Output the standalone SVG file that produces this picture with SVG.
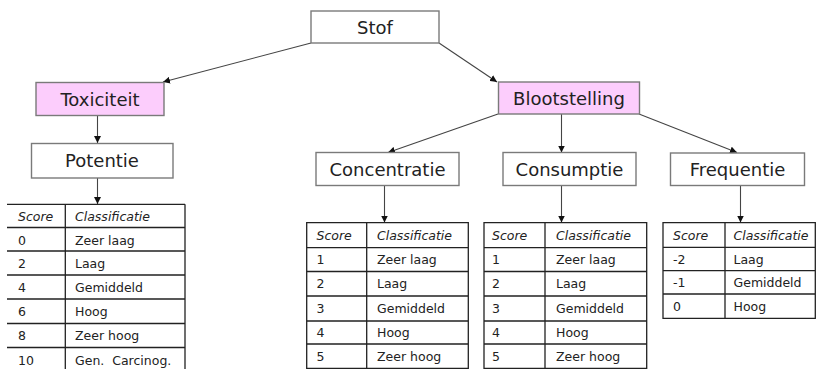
<svg xmlns="http://www.w3.org/2000/svg" width="816" height="369" viewBox="0 0 816 369">
<style>
.box{fill:#fff;stroke:#7a7a7a;stroke-width:1.4}
.pink{fill:#fccdfc;stroke:#7a7a7a;stroke-width:1.4}
.lbl{font-family:"DejaVu Sans",Verdana,sans-serif;font-size:18px;fill:#222;text-anchor:middle}
.conn{stroke:#444;stroke-width:1.1;fill:none}
.tbl{stroke:#222;stroke-width:1.3;fill:none}
.t{font-family:"DejaVu Sans",Verdana,sans-serif;font-size:12.5px;fill:#222}
.h{font-style:italic}
</style>
<defs>
<marker id="ah" viewBox="0 0 10 10" refX="10" refY="5" markerWidth="7" markerHeight="7" markerUnits="userSpaceOnUse" orient="auto">
<path d="M0,0 L10,5 L0,10 z" fill="#111"/>
</marker>
</defs>
<rect width="816" height="369" fill="#fff"/>
<g id="connectors">
<line class="conn" x1="311" y1="43" x2="163" y2="82" marker-end="url(#ah)"/>
<line class="conn" x1="439" y1="43" x2="497" y2="82" marker-end="url(#ah)"/>
<line class="conn" x1="97.5" y1="116" x2="97.5" y2="143" marker-end="url(#ah)"/>
<line class="conn" x1="97.5" y1="178" x2="97.5" y2="204" marker-end="url(#ah)"/>
<line class="conn" x1="498" y1="114" x2="388" y2="152.5" marker-end="url(#ah)"/>
<line class="conn" x1="561.5" y1="114" x2="561.5" y2="152.5" marker-end="url(#ah)"/>
<line class="conn" x1="639" y1="114" x2="737" y2="152.5" marker-end="url(#ah)"/>
<line class="conn" x1="384.5" y1="185.5" x2="384.5" y2="222.5" marker-end="url(#ah)"/>
<line class="conn" x1="561.5" y1="185.5" x2="561.5" y2="222.5" marker-end="url(#ah)"/>
<line class="conn" x1="740.5" y1="185.5" x2="740.5" y2="222.5" marker-end="url(#ah)"/>
</g>
<g id="stof"><rect class="box" x="311" y="11" width="128" height="32"/><text class="lbl" x="375" y="33.5">Stof</text></g>
<g id="toxiciteit"><rect class="pink" x="36" y="82.5" width="128" height="33"/><text class="lbl" x="100" y="105.5">Toxiciteit</text></g>
<g id="blootstelling"><rect class="pink" x="498.5" y="82" width="141" height="32"/><text class="lbl" x="569" y="104.5">Blootstelling</text></g>
<g id="potentie"><rect class="box" x="31.5" y="143.5" width="141.5" height="34.5"/><text class="lbl" x="102" y="167">Potentie</text></g>
<g id="concentratie"><rect class="box" x="316" y="152.5" width="143" height="33"/><text class="lbl" x="387.5" y="175.5">Concentratie</text></g>
<g id="consumptie"><rect class="box" x="503" y="152.5" width="133" height="33"/><text class="lbl" x="569.5" y="175.5">Consumptie</text></g>
<g id="frequentie"><rect class="box" x="670.5" y="153" width="134" height="32.5"/><text class="lbl" x="737.5" y="175.5">Frequentie</text></g>
<g id="table-potentie">
<path class="tbl" d="M7,204.3H185 M7,227.5H185 M7,251H185 M7,275H185 M7,299H185 M7,323.5H185 M7,347.5H185 M65.3,204.3V372 M185,204.3V372"/>
<text class="t h" x="18" y="221">Score</text><text class="t h" x="75" y="221">Classificatie</text>
<text class="t" x="18" y="244.5">0</text><text class="t" x="75" y="244.5">Zeer laag</text>
<text class="t" x="18" y="268">2</text><text class="t" x="75" y="268">Laag</text>
<text class="t" x="18" y="292">4</text><text class="t" x="75" y="292">Gemiddeld</text>
<text class="t" x="18" y="316">6</text><text class="t" x="75" y="316">Hoog</text>
<text class="t" x="18" y="340">8</text><text class="t" x="75" y="340">Zeer hoog</text>
<text class="t" x="18" y="365">10</text><text class="t" x="75" y="365" xml:space="preserve">Gen.  Carcinog.</text>
</g>
<g id="table-concentratie">
<path class="tbl" d="M306.7,222.7H468.3V368.3H306.7Z M306.7,247.7H468.3 M306.7,271.5H468.3 M306.7,296H468.3 M306.7,321H468.3 M306.7,344H468.3 M366.7,222.7V368.3"/>
<text class="t h" x="316.5" y="239.5">Score</text><text class="t h" x="377" y="239.5">Classificatie</text>
<text class="t" x="316.5" y="264">1</text><text class="t" x="377" y="264">Zeer laag</text>
<text class="t" x="316.5" y="288">2</text><text class="t" x="377" y="288">Laag</text>
<text class="t" x="316.5" y="313">3</text><text class="t" x="377" y="313">Gemiddeld</text>
<text class="t" x="316.5" y="337">4</text><text class="t" x="377" y="337">Hoog</text>
<text class="t" x="316.5" y="361">5</text><text class="t" x="377" y="361">Zeer hoog</text>
</g>
<g id="table-consumptie">
<path class="tbl" d="M484,222.7H646.7V368.3H484Z M484,247.7H646.7 M484,271.5H646.7 M484,296H646.7 M484,321H646.7 M484,344H646.7 M545,222.7V368.3"/>
<text class="t h" x="492" y="239.5">Score</text><text class="t h" x="556" y="239.5">Classificatie</text>
<text class="t" x="492" y="264">1</text><text class="t" x="556" y="264">Zeer laag</text>
<text class="t" x="492" y="288">2</text><text class="t" x="556" y="288">Laag</text>
<text class="t" x="492" y="313">3</text><text class="t" x="556" y="313">Gemiddeld</text>
<text class="t" x="492" y="337">4</text><text class="t" x="556" y="337">Hoog</text>
<text class="t" x="492" y="361">5</text><text class="t" x="556" y="361">Zeer hoog</text>
</g>
<g id="table-frequentie">
<path class="tbl" d="M663,222.7H815.3V318.3H663Z M663,247.3H815.3 M663,270.7H815.3 M663,294H815.3 M725,222.7V318.3"/>
<text class="t h" x="673" y="239.5">Score</text><text class="t h" x="733.5" y="239.5">Classificatie</text>
<text class="t" x="673" y="263.5">-2</text><text class="t" x="733.5" y="263.5">Laag</text>
<text class="t" x="673" y="287">-1</text><text class="t" x="733.5" y="287">Gemiddeld</text>
<text class="t" x="673" y="310.5">0</text><text class="t" x="733.5" y="310.5">Hoog</text>
</g>
</svg>
